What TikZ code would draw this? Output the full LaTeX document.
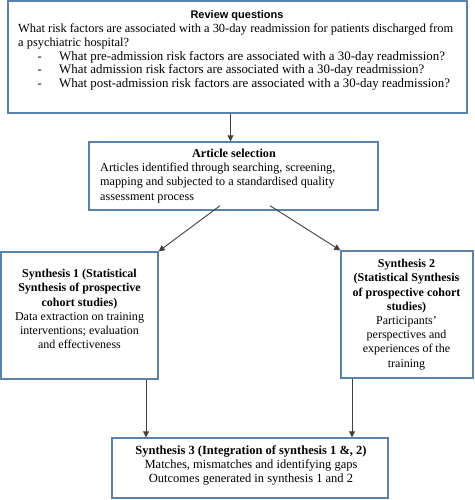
\documentclass[tikz,border=0pt]{standalone}
\usepackage{fontspec}
\setmainfont{Liberation Serif}
\newfontfamily\hdfont{Liberation Sans}
\usetikzlibrary{arrows.meta}
\definecolor{boxblue}{HTML}{5A82AA}
\definecolor{linegray}{HTML}{404040}
\begin{document}
\begin{tikzpicture}[x=1pt,y=-1pt,
  box/.style={draw=boxblue,line width=1.4pt,fill=white,inner sep=0pt},
  txt/.style={inner sep=0pt,font=\fontsize{12}{14.2}\selectfont},
  arr/.style={draw=linegray,line width=0.9pt,-{Triangle[length=6pt,width=6pt]}},
  ln/.style={draw=linegray,line width=0.9pt}]
\useasboundingbox (0,0) rectangle (474,500);
\fill[white] (0,0) rectangle (474,500);
% boxes
\node[box,minimum width=459pt,minimum height=112pt] (rq) at (237.5,57) {};
\node[box,minimum width=289pt,minimum height=68pt] (as) at (233.5,176) {};
\node[box,minimum width=157pt,minimum height=127pt] (s1) at (79.5,315.5) {};
\node[box,minimum width=132pt,minimum height=127pt] (s2) at (407,314.5) {};
\node[box,minimum width=276pt,minimum height=60pt] (s3) at (250,468) {};
% texts
\node[txt,font=\hdfont\bfseries\fontsize{11}{13}\selectfont] (rqt) at (237,15.5) {Review questions};
\node[txt,anchor=north west,align=left,font=\fontsize{12.4}{13.8}\selectfont] (rqb) at (18,23.5) {What risk factors are associated with a 30-day readmission for patients discharged from\\
a psychiatric hospital?\\
\makebox[41pt][l]{\hspace{19.5pt}-}{\fontsize{12.9}{13.8}\selectfont What pre-admission risk factors are associated with a 30-day readmission?}\\
\makebox[41pt][l]{\hspace{19.5pt}-}{\fontsize{12.9}{13.8}\selectfont What admission risk factors are associated with a 30-day readmission?}\\
\makebox[41pt][l]{\hspace{19.5pt}-}{\fontsize{12.9}{13.8}\selectfont What post-admission risk factors are associated with a 30-day readmission?}};
\node[txt,font=\bfseries\fontsize{12.2}{14.5}\selectfont] (ast) at (234,153.5) {Article selection};
\node[txt,anchor=north west,align=left,font=\fontsize{12.2}{14.5}\selectfont] (asb) at (100,162.5) {Articles identified through searching, screening,\\
mapping and subjected to a standardised quality\\
assessment process};
\node[txt,align=center] (s1t) at (79.5,309) {\textbf{Synthesis 1 (Statistical}\\
\textbf{Synthesis of prospective}\\
\textbf{cohort studies)}\\
Data extraction on training\\
interventions; evaluation\\
and effectiveness};
\node[txt,align=center] (s2t) at (406.5,314.5) {\textbf{Synthesis 2}\\
\textbf{(Statistical Synthesis}\\
\textbf{of prospective cohort}\\
\textbf{studies)}\\
Participants’\\
perspectives and\\
experiences of the\\
training};
\node[txt,align=center,font=\fontsize{12.5}{14}\selectfont] (s3t) at (251,465.5) {\textbf{Synthesis 3 (Integration of synthesis 1 \&, 2)}\\
Matches, mismatches and identifying gaps\\
Outcomes generated in synthesis 1 and 2};
% connectors
\draw[arr] (rq.south -| 230.5,0) -- (as.north -| 230.5,0);
\draw[arr] ([xshift=-13.5pt,yshift=5pt]as.south) -- (s1.north east);
\draw[arr] ([xshift=36.5pt,yshift=5pt]as.south) -- (s2.north west);
\draw[arr] (s1.south -| 146,0) -- (s3.north -| 146,0);
\draw[arr] (s2.south -| 352,0) -- (s3.north -| 352,0);
\end{tikzpicture}
\end{document}
